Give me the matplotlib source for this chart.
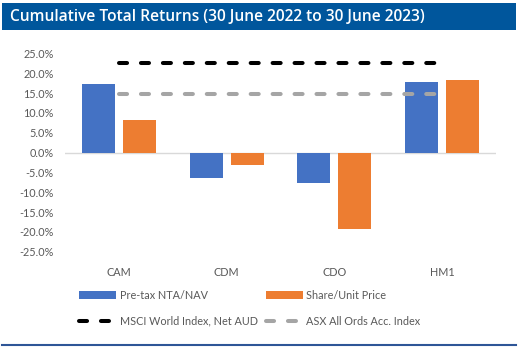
import matplotlib
matplotlib.use("Agg")
import matplotlib.pyplot as plt
import numpy as np
from matplotlib.patches import Rectangle
from matplotlib.lines import Line2D

categories = ["CAM", "CDM", "CDO", "HM1"]
nta = [17.3, -6.4, -7.6, 17.7]
price = [8.3, -3.2, -19.3, 18.2]
msci = [22.5, 22.5, 22.5, 22.5]
asx = [14.8, 14.8, 14.8, 14.8]
yticks = [25, 20, 15, 10, 5, 0, -5, -10, -15, -20, -25]
title = "Cumulative Total Returns (30 June 2022 to 30 June 2023)"
series_names = ["Pre-tax NTA/NAV", "Share/Unit Price", "MSCI World Index, Net AUD", "ASX All Ords Acc. Index"]

plt.rcParams['font.family'] = ['Lato', 'DejaVu Sans']
plt.rcParams['lines.scale_dashes'] = False

W, H = 519, 350
fig = plt.figure(figsize=(W/100, H/100), dpi=100)
ax = fig.add_axes([65/W, 1-251.7/H, (496-65)/W, (251.7-53.5)/H])

x = np.arange(len(categories))
bw = 0.306
off = 0.19
b1 = ax.bar(x - off, nta, bw, color="#4472C4", zorder=2)
b2 = ax.bar(x + off, price, bw, color="#ED7D31", zorder=2)
l1, = ax.plot(x, msci, color="black", lw=2.9, dashes=(5.8, 10.0), dash_capstyle='round', zorder=3)
l2, = ax.plot(x, asx, color="#A5A5A5", lw=2.9, dashes=(5.8, 10.0), dash_capstyle='round', zorder=3)

ax.set_xlim(-0.5, 3.5)
ax.set_ylim(-25, 25)
ax.set_yticks(yticks)
ax.set_yticklabels([f"{v:.1f}%" for v in yticks])
ax.set_xticks(x)
ax.set_xticklabels(categories)
for s in ax.spines.values():
    s.set_visible(False)
ax.axhline(0, color="#D9D9D9", lw=1, zorder=1)
ax.tick_params(axis='both', length=0, labelsize=7.8, colors="#595959")
ax.tick_params(axis='x', pad=11)
ax.tick_params(axis='y', pad=8)

# title bar
fig.patches.append(Rectangle((2/W, 1-30/H), 514/W, 27/H, transform=fig.transFigure,
                             facecolor="#00569C", edgecolor="none"))
fig.text(10/W, 1-16.5/H, title, color="white", fontsize=11.2, fontweight='semibold',
         family=['Open Sans', 'DejaVu Sans'], va='center', ha='left')
# bottom line
fig.lines.append(Line2D([2/W, 516/W], [1-345/H, 1-345/H], transform=fig.transFigure,
                        color="#2E5597", lw=1.5))

leg = fig.legend([b1, l1, b2, l2], [series_names[0], series_names[2], series_names[1], series_names[3]],
                 ncol=2, loc='upper left', bbox_to_anchor=(79/W, 1-290/H), frameon=False,
                 fontsize=7.8, handlelength=3.4, handletextpad=0.35, columnspacing=0.75,
                 labelspacing=1.35, borderpad=0, borderaxespad=0)
for t in leg.get_texts():
    t.set_color("#595959")

fig.savefig("out.png", dpi=100)
